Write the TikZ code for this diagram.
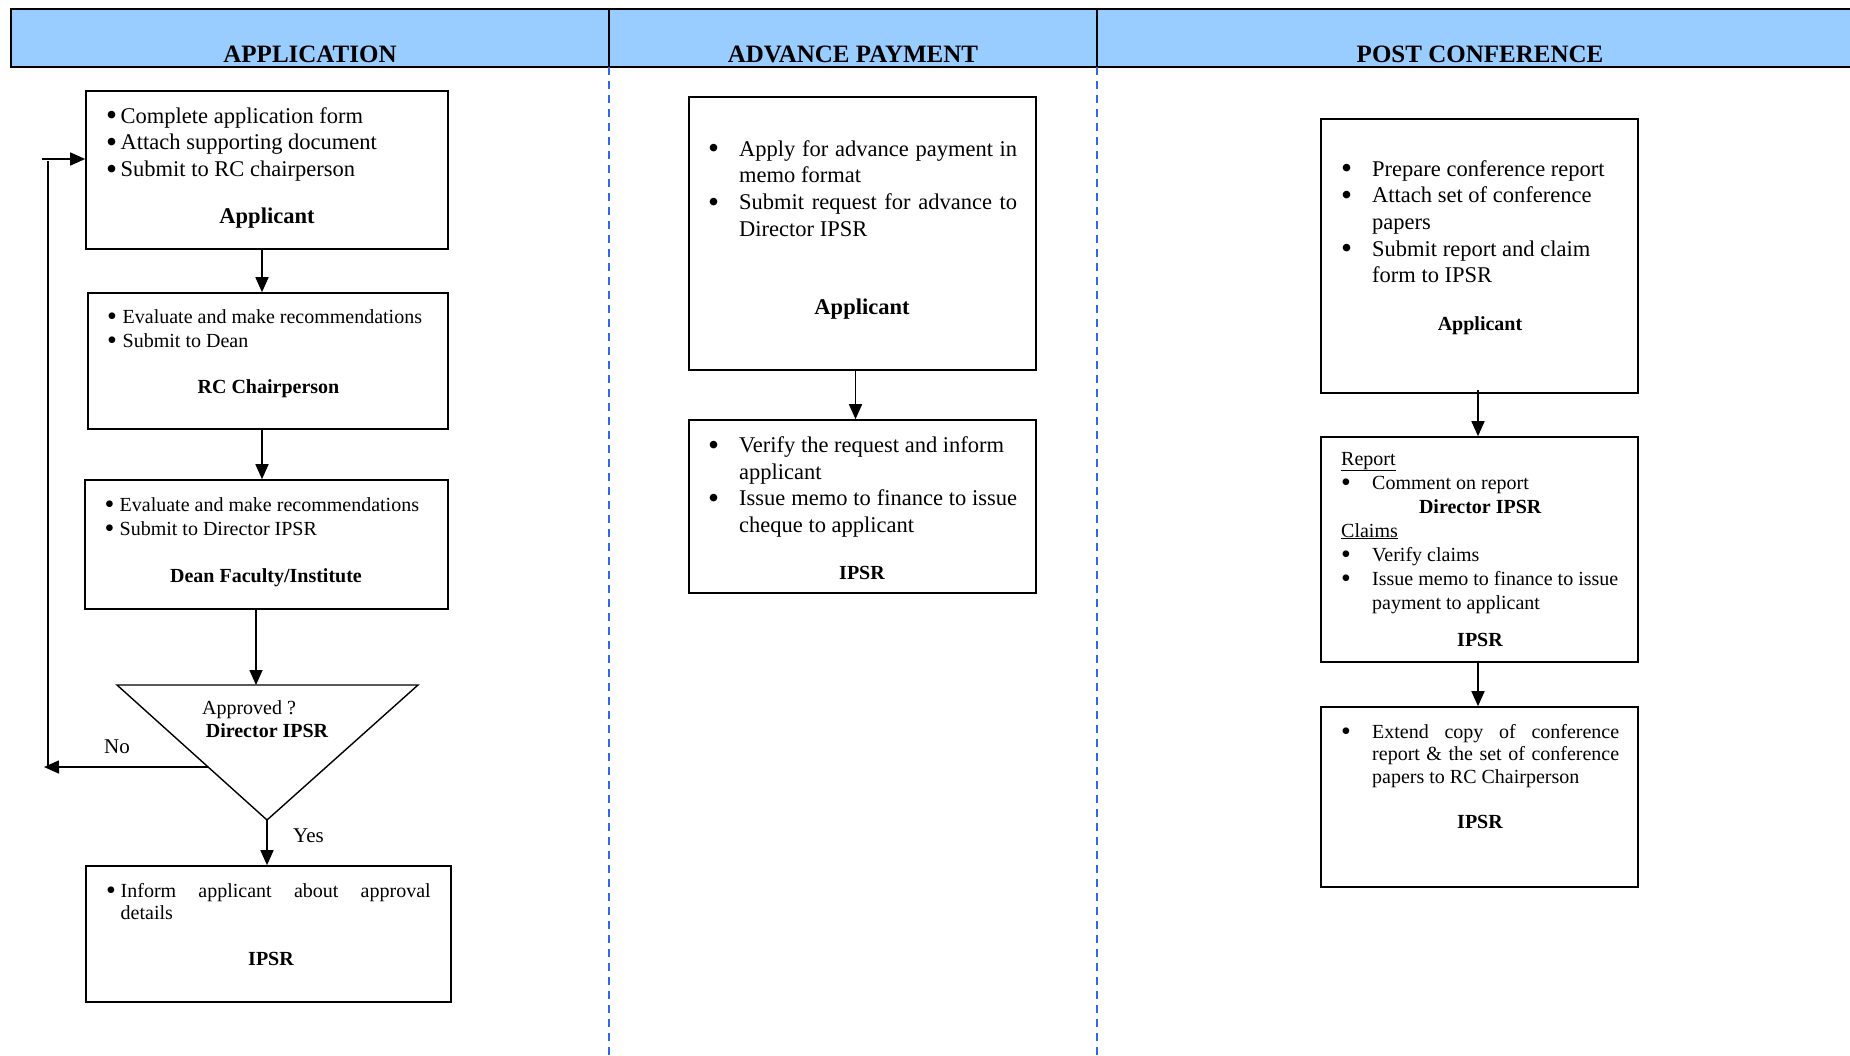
\documentclass[tikz,border=0pt]{standalone}
\usepackage{fontspec}
\usepackage{graphicx}
\setmainfont{Liberation Serif}
\usetikzlibrary{arrows.meta,calc}
\definecolor{hdrblue}{RGB}{153,204,255}
\definecolor{laneblue}{RGB}{51,102,240}
\newcommand\bul{\raisebox{-0.12em}{\scalebox{1.4}{•}}}
\newcommand\Bu[2]{\hbox{\makebox[#1][l]{\bul}#2}}
\newcommand\Co[2]{\hbox{\kern#1\relax #2}}
\newcommand\Ju[2]{\makebox[#1][s]{#2}}
\begin{document}
\begin{tikzpicture}[x=1pt,y=-1pt,
  box/.style={draw, line width=1.6pt, rectangle, inner sep=0pt},
  txt/.style={inner sep=0pt, anchor=base west},
  lbl/.style={inner sep=0pt, anchor=base},
  big/.style={font=\fontsize{22.5}{26.7}\selectfont},
  small/.style={font=\fontsize{20}{24}\selectfont},
  bigb/.style={font=\bfseries\fontsize{22.5}{27}\selectfont},
  smallb/.style={font=\bfseries\fontsize{20}{24}\selectfont},
  hdr/.style={inner sep=0pt, anchor=base, font=\bfseries\fontsize{25}{30}\selectfont},
  arr/.style={line width=1.6pt, -{Triangle[length=15pt,width=13pt]}},
  plain/.style={line width=1.6pt},
  lane/.style={laneblue, line width=1.8pt, dash pattern=on 8pt off 6pt}]
\useasboundingbox (0,0) rectangle (1850,1055);
% header band
\fill[hdrblue] (11,9) rectangle (1850,67);
\draw[line width=1.8pt] (1850,9) -- (11,9) -- (11,67) -- (1850,67);
\draw[line width=1.8pt] (609,9) -- (609,67) (1097,9) -- (1097,67);
\draw[lane] (609,67) -- (609,1055);
\draw[lane] (1097,67) -- (1097,1055);
\node[hdr] (h1) at (310,62) {APPLICATION};
\node[hdr] (h2) at (853,62) {ADVANCE PAYMENT};
\node[hdr] (h3) at (1480,62) {POST CONFERENCE};

% ---------------- APPLICATION ----------------
\node[box, minimum width=362pt, minimum height=158pt] (a1) at (267,170) {};
\node[txt, big] (a1t) at (106,123) {\vtop{%
  \Bu{14.5pt}{Complete application form}
  \Bu{14.5pt}{Attach supporting document}
  \Bu{14.5pt}{Submit to RC chairperson}}};
\node[lbl, bigb] (a1l) at (267,223) {Applicant};

\node[box, minimum width=360pt, minimum height=136pt] (a2) at (268,361) {};
\node[txt, small] (a2t) at (107,323) {\vtop{%
  \Bu{15.5pt}{Evaluate and make recommendations}
  \Bu{15.5pt}{Submit to Dean}}};
\node[lbl, smallb] (a2l) at (268.5,393) {RC Chairperson};

\node[box, minimum width=363pt, minimum height=129pt] (a3) at (266.5,544.5) {};
\node[txt, small] (a3t) at (104.5,511) {\vtop{%
  \Bu{15pt}{Evaluate and make recommendations}
  \Bu{15pt}{Submit to Director IPSR}}};
\node[lbl, smallb] (a3l) at (266,582) {Dean Faculty/Institute};

% decision triangle
\coordinate (tl) at (117,685);
\coordinate (tr) at (418,685);
\coordinate (tapex) at (267,820);
\coordinate (ttop) at (256,685);
\draw[line width=1.4pt] (tl) -- (tr) -- (tapex) -- cycle;
\node[lbl, small] (tq) at (249,714) {Approved ?};
\node[lbl, smallb] (td) at (267,737) {Director IPSR};

\node[box, minimum width=365pt, minimum height=136pt] (a4) at (268.5,934) {};
\node[txt, small, font=\fontsize{20}{22}\selectfont] (a4t) at (106,897) {\vtop{%
  \Bu{14.5pt}{\Ju{310pt}{Inform applicant about approval}}
  \Co{14.5pt}{details}}};
\node[lbl, smallb] (a4l) at (271,965) {IPSR};

\node[lbl, font=\fontsize{21}{25}\selectfont] (no) at (117,753) {No};
\node[lbl, font=\fontsize{21}{25}\selectfont] (yes) at (308.5,842) {Yes};

% connectors
\draw[arr] ([xshift=-5pt]a1.south) -- ([xshift=-5pt]a1.south |- a2.north);
\draw[arr] ([xshift=-6pt]a2.south) -- ([xshift=-6pt]a2.south |- a3.north);
\draw[arr] (ttop |- a3.south) -- (ttop);
\draw[arr] (tapex) -- (tapex |- a4.north);
\coordinate (nostart) at ($(tl)!0.607!(tapex)$);
\coordinate (noend) at (44,767);
\coordinate (fbbot) at (48,766);
\coordinate (fbtop) at (48,161);
\coordinate (fbstart) at (42,159);
\draw[arr] (nostart) -- (noend);
\draw[plain] (fbbot) -- (fbtop);
\draw[arr] (fbstart) -- (fbstart -| a1.west);

% ---------------- ADVANCE PAYMENT ----------------
\node[box, minimum width=347pt, minimum height=273pt] (b1) at (862.5,233.5) {};
\node[txt, big] (b1t) at (708,156) {\vtop{%
  \Bu{31pt}{\Ju{278pt}{Apply for advance payment in}}
  \Co{31pt}{memo format}
  \Bu{31pt}{\Ju{278pt}{Submit request for advance to}}
  \Co{31pt}{Director IPSR}}};
\node[lbl, bigb] (b1l) at (862,314) {Applicant};

\node[box, minimum width=347pt, minimum height=173pt] (b2) at (862.5,506.5) {};
\node[txt, big] (b2t) at (708,452.5) {\vtop{%
  \Bu{31pt}{Verify the request and inform}
  \Co{31pt}{applicant}
  \Bu{31pt}{\Ju{278pt}{Issue memo to finance to issue}}
  \Co{31pt}{cheque to applicant}}};
\node[lbl, smallb] (b2l) at (862,579) {IPSR};

\draw[arr] ([xshift=-7pt]b1.south) -- ([xshift=-7pt]b1.south |- b2.north);

% ---------------- POST CONFERENCE ----------------
\node[box, minimum width=317pt, minimum height=274pt] (c1) at (1479.5,256) {};
\node[txt, big] (c1t) at (1341,176) {\vtop{%
  \Bu{31pt}{Prepare conference report}
  \Bu{31pt}{Attach set of conference}
  \Co{31pt}{papers}
  \Bu{31pt}{Submit report and claim}
  \Co{31pt}{form to IPSR}}};
\node[lbl, smallb] (c1l) at (1480,330) {Applicant};

\node[box, minimum width=317pt, minimum height=225pt] (c2) at (1479.5,549.5) {};
\node[txt, small] (c2t) at (1341,465) {\vtop{%
  \hbox{\underline{Report}}
  \Bu{31pt}{Comment on report}
  \hbox to 278pt{\hfil\bfseries Director IPSR\hfil}
  \hbox{\underline{Claims}}
  \Bu{31pt}{Verify claims}
  \Bu{31pt}{Issue memo to finance to issue}
  \Co{31pt}{payment to applicant}}};
\node[lbl, smallb] (c2l) at (1480,646) {IPSR};

\node[box, minimum width=317pt, minimum height=180pt] (c3) at (1479.5,797) {};
\node[txt, small, font=\fontsize{20}{22.5}\selectfont] (c3t) at (1341,738) {\vtop{%
  \Bu{31pt}{\Ju{247pt}{Extend copy of conference}}
  \Co{31pt}{\Ju{247pt}{report \& the set of conference}}
  \Co{31pt}{papers to RC Chairperson}}};
\node[lbl, smallb] (c3l) at (1480,828) {IPSR};

\draw[arr] ([xshift=-1.5pt,yshift=4pt]c1.south) -- ([xshift=-1.5pt]c1.south |- c2.north);
\draw[arr] ([xshift=-1.5pt]c2.south) -- ([xshift=-1.5pt]c2.south |- c3.north);
\end{tikzpicture}
\end{document}
